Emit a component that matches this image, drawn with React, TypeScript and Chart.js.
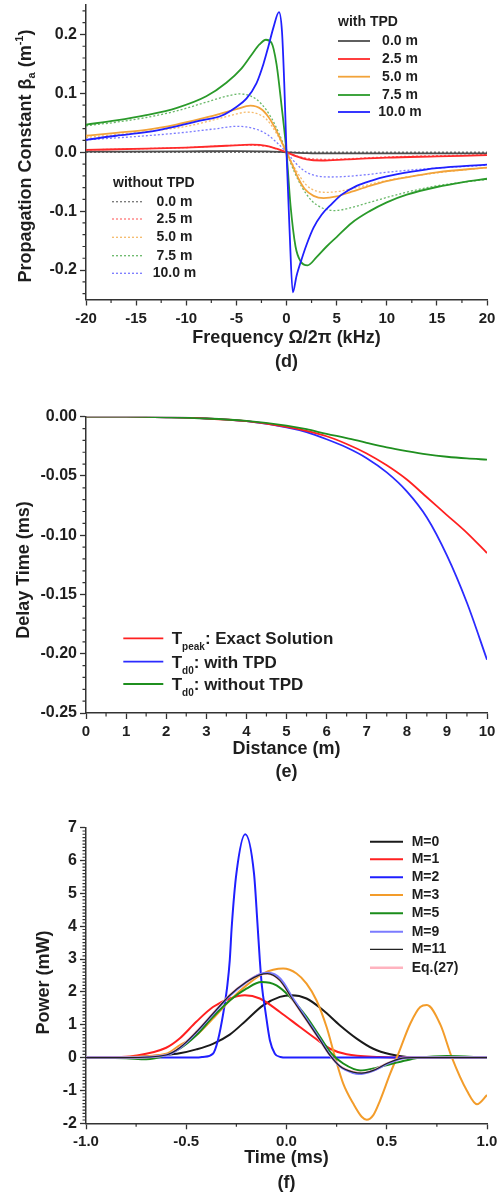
import React, { useEffect, useRef } from "react";
import { Chart, registerables } from "chart.js";
Chart.register(...registerables);

const FONT = '"Liberation Sans", Arial, Helvetica, sans-serif';
const INK = "#1e1e1e";

// ---------------- (d) Propagation constant vs frequency ----------------
const freqTicksD = [-20, -15, -10, -5, 0, 5, 10, 15, 20];
const betaTicksD = [-0.2, -0.1, 0, 0.1, 0.2];

const freqBlack = [-20, -10, -5, -2, 0, 2, 5, 10, 20];
const betaBlack = [0.001, 0.0015, 0.002, 0.0015, 0, -0.0015, -0.002, -0.002, -0.002];

const freqRed = [-20, -14, -10, -6, -3.5, -2, -1, 0, 1, 2, 3.5, 6, 10, 15, 20];
const betaRed = [0.004, 0.006, 0.008, 0.011, 0.013, 0.011, 0.006, 0, -0.007, -0.012, -0.014, -0.012, -0.009, -0.007, -0.005];

const freqOrange = [-20, -17, -14, -11, -8.5, -6.5, -5, -3.6, -2.5, -1.8, -1.2, -0.6, 0, 0.6, 1.2, 1.8, 2.7, 3.7, 5, 6.5, 8.3, 10, 12.5, 15, 20];
const betaOrange = [0.028, 0.033, 0.038, 0.047, 0.057, 0.066, 0.073, 0.079, 0.073, 0.06, 0.043, 0.022, 0, -0.022, -0.045, -0.062, -0.074, -0.078, -0.075, -0.067, -0.057, -0.049, -0.041, -0.034, -0.026];

const freqGreen = [-20, -17, -14, -11, -8, -6, -4.5, -3.5, -2.7, -2.05, -1.5, -1.0, -0.5, 0, 0.4, 0.9, 1.4, 2.1, 3, 4, 5, 6.5, 8.3, 10, 12, 15, 17.5, 20];
const betaGreen = [0.047, 0.054, 0.063, 0.075, 0.095, 0.118, 0.142, 0.165, 0.183, 0.191, 0.186, 0.15, 0.08, 0, -0.09, -0.16, -0.185, -0.192, -0.178, -0.16, -0.144, -0.12, -0.1, -0.085, -0.072, -0.059, -0.051, -0.045];

const freqBlue = [-20, -17, -14, -11, -8.5, -6.5, -5, -4, -3, -2.3, -1.8, -1.3, -0.75, -0.45, -0.22, 0, 0.3, 0.63, 1.0, 1.5, 2.0, 2.7, 3.5, 4.5, 5.5, 7, 8.5, 10, 12.5, 15, 20];
const betaBlue = [0.021, 0.028, 0.034, 0.044, 0.054, 0.062, 0.077, 0.091, 0.117, 0.15, 0.18, 0.212, 0.238, 0.205, 0.115, 0, -0.13, -0.238, -0.21, -0.182, -0.157, -0.128, -0.106, -0.088, -0.072, -0.057, -0.048, -0.041, -0.033, -0.027, -0.021];

const freqBlackDot = [-20, 20];
const betaBlackDot = [0, 0];

const freqRedDot = [-20, -10, -4, -2, -1, 0, 1, 2, 4, 10, 20];
const betaRedDot = [0.004, 0.008, 0.012, 0.01, 0.006, 0, -0.006, -0.01, -0.012, -0.008, -0.004];

const freqOrangeDot = [-20, -14, -10, -7, -5, -4, -3, -2, -1, 0, 1, 2, 3, 4, 5, 7, 10, 14, 20];
const betaOrangeDot = [0.025, 0.035, 0.044, 0.056, 0.065, 0.068, 0.066, 0.056, 0.032, 0, -0.032, -0.056, -0.066, -0.068, -0.067, -0.06, -0.048, -0.037, -0.026];

const freqGreenDot = [-20, -17, -14, -11, -8, -6, -4.7, -3.5, -2.5, -1.5, -0.7, 0, 0.7, 1.5, 2.5, 3.5, 4.8, 6, 8.3, 11.7, 15, 20];
const betaGreenDot = [0.045, 0.051, 0.059, 0.07, 0.085, 0.095, 0.099, 0.095, 0.082, 0.058, 0.03, 0, -0.03, -0.058, -0.082, -0.094, -0.099, -0.096, -0.085, -0.069, -0.057, -0.046];

const freqBlueDot = [-20, -14, -10, -7, -5, -4, -3, -2, -1, 0, 1, 2, 3, 4.5, 6, 8, 10, 14, 20];
const betaBlueDot = [0.021, 0.028, 0.034, 0.04, 0.044, 0.043, 0.039, 0.031, 0.017, 0, -0.02, -0.034, -0.04, -0.042, -0.041, -0.038, -0.034, -0.028, -0.022];

const distanceLabelsD = ["0.0 m", "2.5 m", "5.0 m", "7.5 m", "10.0 m"];

// ---------------- (e) Delay time vs distance ----------------
const distTicksE = [0, 1, 2, 3, 4, 5, 6, 7, 8, 9, 10];
const delayTicksE = [0, -0.05, -0.1, -0.15, -0.2, -0.25];
const distance = [0, 1, 2, 3, 4, 5, 5.5, 6, 6.5, 7, 7.5, 8, 8.5, 9, 9.5, 10];
const delayExact = [0, 0, -0.0005, -0.0015, -0.0038, -0.0085, -0.012, -0.0165, -0.023, -0.031, -0.041, -0.053, -0.068, -0.083, -0.098, -0.115];
const delayWithTPD = [0, 0, -0.0005, -0.0015, -0.0038, -0.009, -0.013, -0.019, -0.026, -0.035, -0.047, -0.063, -0.085, -0.117, -0.157, -0.205];
const delayWithoutTPD = [0, 0, -0.0005, -0.0015, -0.0035, -0.0075, -0.0105, -0.0145, -0.018, -0.022, -0.0258, -0.029, -0.0318, -0.0338, -0.0352, -0.0362];

// ---------------- (f) Power vs time ----------------
const timeTicksF = [-1, -0.5, 0, 0.5, 1];
const powerTicksF = [-2, -1, 0, 1, 2, 3, 4, 5, 6, 7];

const timeM0 = [-1, -0.8, -0.6, -0.533, -0.45, -0.367, -0.283, -0.2, -0.117, -0.033, 0.025, 0.1, 0.183, 0.267, 0.35, 0.433, 0.517, 0.6, 0.7, 1];
const powerM0 = [0, 0.01, 0.08, 0.13, 0.25, 0.42, 0.7, 1.14, 1.59, 1.85, 1.9, 1.8, 1.44, 0.98, 0.58, 0.27, 0.1, 0.02, 0, 0];

const timeM1 = [-1, -0.85, -0.764, -0.6, -0.533, -0.45, -0.367, -0.283, -0.208, -0.133, -0.033, 0.067, 0.167, 0.217, 0.3, 0.467, 0.6, 1];
const powerM1 = [0, 0.01, 0.05, 0.3, 0.58, 1.09, 1.54, 1.8, 1.9, 1.8, 1.39, 0.93, 0.48, 0.27, 0.1, 0.02, 0, 0];

const timeM2 = [-1, -0.45, -0.417, -0.367, -0.342, -0.314, -0.295, -0.283, -0.273, -0.25, -0.206, -0.162, -0.145, -0.133, -0.123, -0.105, -0.083, -0.058, -0.03, 0, 1];
const powerM2 = [0, 0, 0.02, 0.12, 0.53, 1.4, 2.2, 2.96, 4.0, 5.6, 6.8, 5.6, 4.1, 2.96, 2.2, 1.4, 0.53, 0.12, 0.02, 0, 0];

const timeM3 = [-1, -0.8, -0.6, -0.533, -0.45, -0.367, -0.283, -0.2, -0.117, -0.017, 0.05, 0.1, 0.15, 0.2, 0.242, 0.283, 0.333, 0.375, 0.4, 0.433, 0.467, 0.517, 0.558, 0.617, 0.667, 0.7, 0.767, 0.825, 0.9, 0.95, 1];
const powerM3 = [0, 0.02, 0.12, 0.375, 0.68, 1.19, 1.74, 2.2, 2.56, 2.71, 2.56, 2.25, 1.74, 0.93, 0.02, -0.79, -1.4, -1.8, -1.89, -1.75, -1.3, -0.49, 0.12, 1.03, 1.54, 1.6, 1.01, 0, -1.01, -1.42, -1.14];

const timeM5 = [-1, -0.8, -0.7, -0.6, -0.533, -0.45, -0.367, -0.283, -0.2, -0.125, -0.05, 0.017, 0.1, 0.167, 0.225, 0.283, 0.367, 0.433, 0.517, 0.6, 0.667, 0.8, 1];
const powerM5 = [0, -0.02, -0.05, 0.08, 0.27, 0.68, 1.24, 1.74, 2.1, 2.3, 2.2, 1.85, 1.24, 0.63, 0.12, -0.18, -0.39, -0.33, -0.2, -0.08, 0, 0.05, 0];

const timeM9 = [-1, -0.8, -0.6, -0.533, -0.45, -0.367, -0.283, -0.2, -0.133, -0.09, -0.03, 0.033, 0.1, 0.167, 0.217, 0.267, 0.333, 0.36, 0.433, 0.5, 0.567, 0.633, 0.8, 1];
const powerM9 = [0, 0, 0.07, 0.28, 0.76, 1.32, 1.88, 2.3, 2.54, 2.58, 2.4, 1.8, 1.18, 0.56, 0.08, -0.27, -0.47, -0.5, -0.4, -0.2, -0.04, 0, 0, 0];

const timeM11 = [-1, -0.8, -0.6, -0.533, -0.45, -0.367, -0.283, -0.2, -0.133, -0.095, -0.033, 0.033, 0.1, 0.167, 0.217, 0.267, 0.333, 0.375, 0.433, 0.5, 0.567, 0.633, 0.8, 1];
const powerM11 = [0, 0, 0.08, 0.3, 0.78, 1.34, 1.9, 2.3, 2.52, 2.56, 2.35, 1.74, 1.14, 0.53, 0.07, -0.26, -0.44, -0.47, -0.39, -0.18, -0.03, 0, 0, 0];

const timeEq27 = [-1, -0.8, -0.6, -0.533, -0.45, -0.367, -0.283, -0.2, -0.133, -0.095, -0.033, 0.033, 0.1, 0.167, 0.217, 0.267, 0.333, 0.375, 0.433, 0.5, 0.567, 0.633, 0.8, 1];
const powerEq27 = [0, 0, 0.08, 0.3, 0.78, 1.34, 1.9, 2.3, 2.53, 2.56, 2.36, 1.75, 1.14, 0.53, 0.07, -0.26, -0.44, -0.47, -0.39, -0.18, -0.03, 0, 0, 0];

const seriesLabelsF = ["M=0", "M=1", "M=2", "M=3", "M=5", "M=9", "M=11", "Eq.(27)"];

// ---------------- helpers ----------------
function minorBetween(a: number, b: number, step: number, major: number) {
  const out: number[] = [];
  const n = Math.round((b - a) / step);
  for (let i = 0; i <= n; i++) {
    const v = Math.round((a + i * step) * 1e6) / 1e6;
    const r = v / major;
    if (Math.abs(r - Math.round(r)) > 1e-6) out.push(v);
  }
  return out;
}

function pts(xs: number[], ys: number[]) {
  return xs.map((x, i) => ({ x, y: ys[i] }));
}

function ds(xs: number[], ys: number[], color: string, width: number, dash: number[] = []) {
  return {
    data: pts(xs, ys),
    borderColor: color,
    borderWidth: width,
    borderDash: dash,
    pointRadius: 0,
    fill: false,
    cubicInterpolationMode: "monotone" as const,
  };
}

type Seg = { t: string; size: number; dy?: number };

function drawRich(ctx: CanvasRenderingContext2D, segs: Seg[], x: number, y: number, align: "left" | "center", rotate = false) {
  ctx.save();
  ctx.translate(x, y);
  if (rotate) ctx.rotate(-Math.PI / 2);
  ctx.textBaseline = "alphabetic";
  ctx.textAlign = "left";
  ctx.fillStyle = INK;
  const widths = segs.map((s) => {
    ctx.font = `bold ${s.size}px ${FONT}`;
    return ctx.measureText(s.t).width;
  });
  const total = widths.reduce((a, b) => a + b, 0);
  let cx = align === "center" ? -total / 2 : 0;
  segs.forEach((s, i) => {
    ctx.font = `bold ${s.size}px ${FONT}`;
    ctx.fillText(s.t, cx, s.dy || 0);
    cx += widths[i];
  });
  ctx.restore();
}

function drawMinor(ctx: CanvasRenderingContext2D, chart: any, xMinor: number[], yMinor: number[]) {
  const a = chart.chartArea;
  const xs = chart.scales.x;
  const ys = chart.scales.y;
  ctx.save();
  ctx.strokeStyle = "#333";
  ctx.lineWidth = 1.2;
  ctx.beginPath();
  xMinor.forEach((v) => {
    const p = xs.getPixelForValue(v);
    ctx.moveTo(p, a.bottom);
    ctx.lineTo(p, a.bottom + 3.5);
  });
  yMinor.forEach((v) => {
    const p = ys.getPixelForValue(v);
    ctx.moveTo(a.left - 3.5, p);
    ctx.lineTo(a.left, p);
  });
  ctx.stroke();
  ctx.restore();
}

function legendLine(ctx: CanvasRenderingContext2D, x1: number, x2: number, y: number, color: string, width: number, dash: number[] = []) {
  ctx.save();
  ctx.strokeStyle = color;
  ctx.lineWidth = width;
  ctx.setLineDash(dash);
  ctx.beginPath();
  ctx.moveTo(x1, y);
  ctx.lineTo(x2, y);
  ctx.stroke();
  ctx.restore();
}

function plainText(ctx: CanvasRenderingContext2D, t: string, x: number, y: number, size: number, align: CanvasTextAlign) {
  ctx.save();
  ctx.font = `bold ${size}px ${FONT}`;
  ctx.fillStyle = INK;
  ctx.textAlign = align;
  ctx.textBaseline = "middle";
  ctx.fillText(t, x, y);
  ctx.restore();
}

function xAxis(min: number, max: number, majors: number[], fmt: (v: number) => string, title: string[], lh: number, pb: number, height: number) {
  return {
    type: "linear" as const,
    min,
    max,
    afterBuildTicks: (s: any) => {
      s.ticks = majors.map((v) => ({ value: v }));
    },
    afterFit: (s: any) => {
      s.height = height;
      s.paddingLeft = 0;
      s.paddingRight = 0;
    },
    ticks: {
      autoSkip: false,
      maxRotation: 0,
      padding: 4,
      color: INK,
      font: { family: FONT, size: 15, weight: "bold" as const },
      callback: (v: any) => fmt(Number(v)),
    },
    grid: { display: true, drawOnChartArea: false, drawTicks: true, tickLength: 6, tickWidth: 1.3, tickColor: "#333" },
    border: { display: true, color: "#333", width: 1.5 },
    title: {
      display: true,
      text: title,
      color: INK,
      font: { family: FONT, size: 18, weight: "bold" as const, lineHeight: lh },
      padding: { top: 0, bottom: pb },
    },
  };
}

function yAxis(min: number, max: number, majors: number[], fmt: (v: number) => string) {
  return {
    type: "linear" as const,
    min,
    max,
    afterBuildTicks: (s: any) => {
      s.ticks = majors.map((v) => ({ value: v }));
    },
    afterFit: (s: any) => {
      s.width = 86;
      s.paddingTop = 0;
      s.paddingBottom = 0;
    },
    ticks: {
      autoSkip: false,
      padding: 3,
      color: INK,
      font: { family: FONT, size: 16, weight: "bold" as const },
      callback: (v: any) => fmt(Number(v)),
    },
    grid: { display: true, drawOnChartArea: false, drawTicks: true, tickLength: 6, tickWidth: 1.3, tickColor: "#333" },
    border: { display: true, color: "#333", width: 1.5 },
  };
}

function baseOptions(padTop: number, x: any, y: any) {
  return {
    responsive: false,
    maintainAspectRatio: false,
    animation: false as const,
    devicePixelRatio: 1,
    layout: { padding: { top: padTop, right: 14, left: 0, bottom: 0 } },
    plugins: { legend: { display: false }, tooltip: { enabled: false }, title: { display: false } },
    scales: { x, y },
  };
}

// ---------------- colours ----------------
const D_COLORS = ["#4d4d4d", "#ff2a2a", "#f2a33a", "#2a9a2a", "#2020ff"];
const D_DOT_COLORS = ["rgba(60,60,60,0.7)", "rgba(255,60,60,0.7)", "rgba(242,163,58,0.75)", "rgba(42,154,42,0.7)", "rgba(50,50,255,0.65)"];
const E_COLORS = ["#ff2020", "#2b2bff", "#1f8f1f"];
const F_COLORS = ["#1a1a1a", "#ff2020", "#1f1fff", "#f39c2a", "#1a8c1a", "#7b7bff", "#222222", "#ffb3bf"];
const F_WIDTHS = [2, 2, 2, 2, 2, 2, 1.2, 2.5];

// ---------------- chart configs ----------------
function configD() {
  const H = 385;
  const xMinor = minorBetween(-20, 20, 2.5, 5);
  const yMinor = minorBetween(-0.24, 0.24, 0.02, 0.1);
  return {
    type: "line" as const,
    data: {
      datasets: [
        ds(freqBlue, betaBlue, D_COLORS[4], 1.8),
        ds(freqGreen, betaGreen, D_COLORS[3], 1.8),
        ds(freqOrange, betaOrange, D_COLORS[2], 1.8),
        ds(freqRed, betaRed, D_COLORS[1], 1.8),
        ds(freqBlack, betaBlack, D_COLORS[0], 1.8),
        ds(freqBlueDot, betaBlueDot, D_DOT_COLORS[4], 1.3, [2, 2]),
        ds(freqGreenDot, betaGreenDot, D_DOT_COLORS[3], 1.3, [2, 2]),
        ds(freqOrangeDot, betaOrangeDot, D_DOT_COLORS[2], 1.3, [2, 2]),
        ds(freqRedDot, betaRedDot, D_DOT_COLORS[1], 1.3, [2, 2]),
        ds(freqBlackDot, betaBlackDot, D_DOT_COLORS[0], 1.3, [2, 2]),
      ],
    },
    options: baseOptions(
      5,
      xAxis(-20, 20, freqTicksD, (v) => String(v), ["Frequency \u03A9/2\u03C0 (kHz)", "(d)"], 1.3, 11.6, H - 299.5),
      yAxis(-0.25, 0.25, betaTicksD, (v) => v.toFixed(1))
    ),
    plugins: [
      {
        id: "overlayD",
        afterDraw(chart: any) {
          const ctx = chart.ctx as CanvasRenderingContext2D;
          drawMinor(ctx, chart, xMinor, yMinor);
          drawRich(
            ctx,
            [
              { t: "Propagation Constant \u03B2", size: 18 },
              { t: "a", size: 11, dy: 4 },
              { t: " (m", size: 18 },
              { t: "-1", size: 11, dy: -8 },
              { t: ")", size: 18 },
            ],
            31,
            156,
            "center",
            true
          );
          plainText(ctx, "with TPD", 338, 22, 14, "left");
          const rowsA = [41, 59, 76.7, 95, 112];
          rowsA.forEach((y, i) => {
            legendLine(ctx, 338, 370, y, D_COLORS[i], 1.8);
            plainText(ctx, distanceLabelsD[i], 400, y, 14, "center");
          });
          plainText(ctx, "without TPD", 113, 183.3, 14, "left");
          const rowsB = [201.7, 219, 237.3, 255.7, 273.3];
          rowsB.forEach((y, i) => {
            legendLine(ctx, 112, 143, y, D_DOT_COLORS[i], 1.3, [2, 2]);
            plainText(ctx, distanceLabelsD[i], 174.5, y, 14, "center");
          });
        },
      },
    ],
  };
}

function configE() {
  const H = 400;
  const xMinor = minorBetween(0, 10, 0.5, 1);
  const yMinor = minorBetween(-0.25, 0, 0.01, 0.05);
  return {
    type: "line" as const,
    data: {
      datasets: [
        ds(distance, delayWithoutTPD, E_COLORS[2], 1.8),
        ds(distance, delayExact, E_COLORS[0], 1.8),
        ds(distance, delayWithTPD, E_COLORS[1], 1.8),
      ],
    },
    options: baseOptions(
      31.7,
      xAxis(0, 10, distTicksE, (v) => String(v), ["Distance (m)", "(e)"], 1.25, 2, H - 328),
      yAxis(-0.25, 0, delayTicksE, (v) => v.toFixed(2))
    ),
    plugins: [
      {
        id: "overlayE",
        afterDraw(chart: any) {
          const ctx = chart.ctx as CanvasRenderingContext2D;
          drawMinor(ctx, chart, xMinor, yMinor);
          drawRich(ctx, [{ t: "Delay Time (ms)", size: 18 }], 28.5, 185, "center", true);
          const rows = [253.3, 276.7, 299];
          const legend: Seg[][] = [
            [{ t: "T", size: 17 }, { t: "peak", size: 10, dy: 6 }, { t: ": Exact Solution", size: 17 }],
            [{ t: "T", size: 17 }, { t: "d0", size: 10, dy: 6 }, { t: ": with TPD", size: 17 }],
            [{ t: "T", size: 17 }, { t: "d0", size: 10, dy: 6 }, { t: ": without TPD", size: 17 }],
          ];
          rows.forEach((y, i) => {
            legendLine(ctx, 123.3, 163.3, y, E_COLORS[i], 1.8);
            drawRich(ctx, legend[i], 171.7, y + 6, "left");
          });
        },
      },
    ],
  };
}

function configF() {
  const H = 411;
  const xMinor = minorBetween(-1, 1, 0.25, 0.5);
  const yMinor = minorBetween(-2, 7, 0.1, 1);
  const order = [6, 5, 7, 4, 3, 2, 1, 0];
  const tx = [timeM0, timeM1, timeM2, timeM3, timeM5, timeM9, timeM11, timeEq27];
  const py = [powerM0, powerM1, powerM2, powerM3, powerM5, powerM9, powerM11, powerEq27];
  return {
    type: "line" as const,
    data: {
      datasets: order.map((k) => ds(tx[k], py[k], F_COLORS[k], F_WIDTHS[k])),
    },
    options: baseOptions(
      42.7,
      xAxis(-1, 1, timeTicksF, (v) => v.toFixed(1), ["Time (ms)", "(f)"], 1.39, 0.2, H - 338.3),
      yAxis(-2, 7, powerTicksF, (v) => String(v))
    ),
    plugins: [
      {
        id: "overlayF",
        afterDraw(chart: any) {
          const ctx = chart.ctx as CanvasRenderingContext2D;
          drawMinor(ctx, chart, xMinor, yMinor);
          drawRich(ctx, [{ t: "Power (mW)", size: 18 }], 48.5, 197.5, "center", true);
          const rows = [56.7, 74.3, 92.3, 110, 128.3, 146.7, 164.3, 182.7];
          rows.forEach((y, i) => {
            legendLine(ctx, 370, 403, y, F_COLORS[i], F_WIDTHS[i]);
            plainText(ctx, seriesLabelsF[i], 411.7, y, 14, "left");
          });
        },
      },
    ],
  };
}

function ChartCanvas({ make, top, height }: { make: () => any; top: number; height: number }) {
  const ref = useRef<HTMLCanvasElement>(null);
  useEffect(() => {
    const chart = new Chart(ref.current as HTMLCanvasElement, make());
    return () => chart.destroy();
  }, []);
  return (
    <canvas
      ref={ref}
      width={501}
      height={height}
      style={{ position: "absolute", left: 0, top, width: 501, height, display: "block" }}
    />
  );
}

export default function App() {
  return (
    <div style={{ position: "absolute", left: 0, top: 0, width: 501, height: 1196, background: "#fff", overflow: "hidden" }}>
      <ChartCanvas make={configD} top={0} height={385} />
      <ChartCanvas make={configE} top={385} height={400} />
      <ChartCanvas make={configF} top={785} height={411} />
    </div>
  );
}
